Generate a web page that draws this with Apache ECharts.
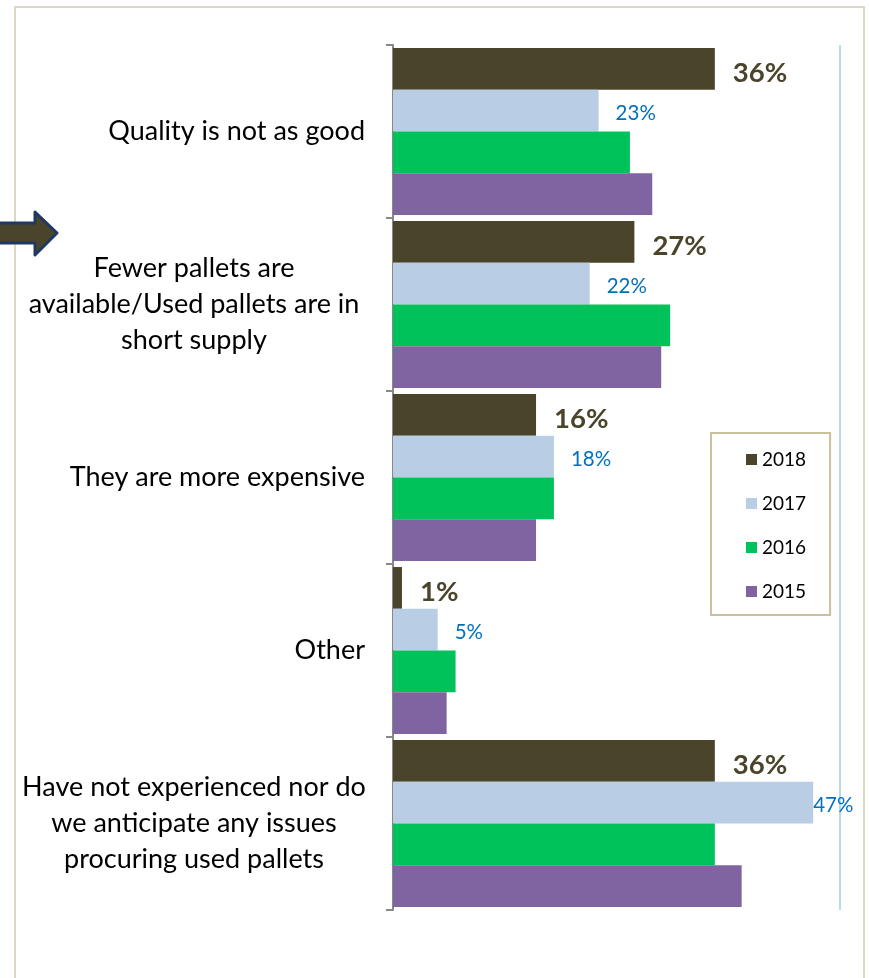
<!DOCTYPE html>
<html>
<head>
<meta charset="utf-8">
<script src="https://cdn.jsdelivr.net/npm/echarts@6/dist/echarts.min.js"></script>
<style>html,body{margin:0;padding:0;background:#fff;}#c{width:869px;height:978px;}</style>
</head>
<body>
<div id="c"></div>
<script>
const categories = [
  'Quality is not as good',
  'Fewer pallets are\navailable/Used pallets are in\nshort supply',
  'They are more expensive',
  'Other',
  'Have not experienced nor do\nwe anticipate any issues\nprocuring used pallets'
];
const years = ['2018', '2017', '2016', '2015'];
const values2018 = [36, 27, 16, 1, 36];
const values2017 = [23, 22, 18, 5, 47];
const values2016 = [26.5, 31, 18, 7, 36];
const values2015 = [29, 30, 16, 6, 39];
const axisMax = 50;

const colors = ['#4a442a', '#b9cde5', '#00c25a', '#8064a2'];
const FONT = 'Lato';

const chart = echarts.init(document.getElementById('c'), null, {renderer: 'canvas'});

function series(name, data, idx, label) {
  return {
    name: name, type: 'bar', data: data,
    barGap: '0%', barCategoryGap: '3.5%',
    itemStyle: {color: colors[idx]},
    label: label || {show: false},
    animation: false
  };
}

// the widest 2017 label sits directly against its bar, as in the original
const data2017 = values2017.map(v => v === Math.max.apply(null, values2017) ? {value: v, label: {distance: 0}} : v);

chart.setOption({
  animation: false,
  textStyle: {fontFamily: FONT},
  graphic: [
    {type: 'rect', shape: {x: 15, y: 7, width: 849, height: 990}, style: {fill: 'none', stroke: '#ddd8c3', lineWidth: 2}, z: 0},
    {type: 'polygon', shape: {points: [[-5, 223], [35, 223], [35, 212], [57, 233], [35, 255], [35, 243], [-5, 243]]},
     style: {fill: '#4a442a', stroke: '#1f3864', lineWidth: 3, lineJoin: 'round'}, z: 10}
  ],
  legend: {
    data: years, orient: 'vertical', left: 711, top: 433,
    padding: [17, 24, 14, 35], itemGap: 25,
    itemWidth: 11, itemHeight: 11, icon: 'rect',
    borderColor: '#c9c29d', borderWidth: 2,
    textStyle: {fontSize: 19, color: '#000', fontFamily: FONT}
  },
  grid: {left: 393, right: 29, top: 45, bottom: 68, containLabel: false},
  xAxis: {
    type: 'value', min: 0, max: axisMax, interval: axisMax,
    axisLine: {show: false}, axisTick: {show: false}, axisLabel: {show: false},
    splitLine: {show: true, lineStyle: {color: '#b4dde8', width: 2}}
  },
  yAxis: {
    type: 'category', data: categories, inverse: true,
    axisLine: {show: true, lineStyle: {color: '#888888', width: 2}},
    axisTick: {show: true, length: 7, lineStyle: {color: '#888888', width: 2}},
    axisLabel: {
      margin: 28, align: 'right', color: '#000', fontSize: 27, fontFamily: FONT,
      lineHeight: 36,
      formatter: function (v) {
        if (v.indexOf('\n') >= 0) {
          return v.split('\n').map(s => '{c|' + s + '}').join('\n');
        }
        return '{r|' + v + '}';
      },
      rich: {
        c: {width: 342, align: 'center', fontSize: 27, lineHeight: 36, color: '#000', fontFamily: FONT},
        r: {fontSize: 27, lineHeight: 36, color: '#000', fontFamily: FONT}
      }
    }
  },
  series: [
    series('2018', values2018, 0, {show: true, position: 'right', distance: 18, offset: [0, 4], formatter: '{c}%', fontSize: 27.5, fontWeight: 'bold', color: '#4a442a', fontFamily: FONT}),
    series('2017', data2017, 1, {show: true, position: 'right', distance: 17, offset: [0, 3], formatter: '{c}%', fontSize: 20.5, color: '#0070c0', fontFamily: FONT}),
    series('2016', values2016, 2),
    series('2015', values2015, 3)
  ]
});
</script>
</body>
</html>
